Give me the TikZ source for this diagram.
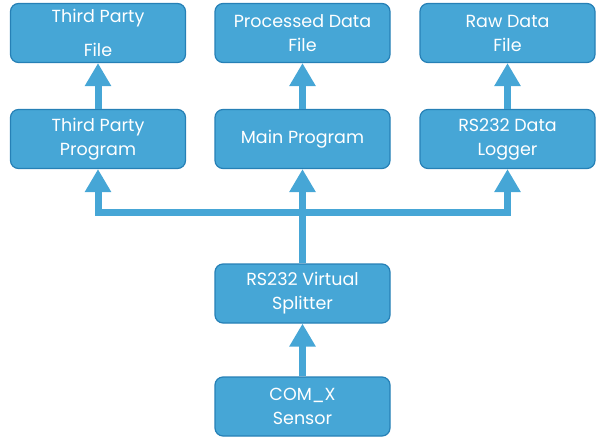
\documentclass[tikz,border=0pt]{standalone}
\usepackage{fontspec}
\setmainfont{Poppins}
\usepackage{xcolor}
\usepackage{tikz}
\usetikzlibrary{arrows.meta}
\definecolor{boxblue}{RGB}{70,166,214}
\definecolor{edgeblue}{RGB}{38,128,182}

\begin{document}
\begin{tikzpicture}[x=1pt,y=-1pt,
  block/.style={draw=edgeblue,line width=1.2pt,fill=boxblue,rounded corners=8pt,
    minimum width=175pt,minimum height=59pt,text=white,align=center,
    font=\fontsize{17.5}{24}\selectfont,inner sep=0pt},
  flow/.style={draw=boxblue,line width=7pt,
    -{Triangle[width=25pt,length=23pt]},line join=miter}]
\useasboundingbox (0,0) rectangle (596,438);
% top row
\node[block] (tpfile) at (98,33) {Third Party\\[10pt]File};
\node[block] (procfile) at (302.5,33) {Processed Data\\File};
\node[block] (rawfile) at (507.5,33) {Raw Data\\File};
% programs
\node[block] (tpprog) at (98,139) {Third Party\\Program};
\node[block] (mainprog) at (302.5,139) {Main Program};
\node[block] (logger) at (507.5,139) {RS232 Data\\Logger};
% splitter and sensor
\node[block] (splitter) at (302.5,293.5) {RS232 Virtual\\Splitter};
\node[block] (sensor) at (302.5,406.5) {COM\_X\\Sensor};
\coordinate (bus) at (302.5,213);
% arrows
\draw[flow] (tpprog) -- (tpfile);
\draw[flow] (mainprog) -- (procfile);
\draw[flow] (logger) -- (rawfile);
\draw[flow] (sensor) -- (splitter);
\draw[flow] (splitter) -- (mainprog);
\draw[flow] (bus) -| (tpprog.south);
\draw[flow] (bus) -| (logger.south);
\end{tikzpicture}
\end{document}
